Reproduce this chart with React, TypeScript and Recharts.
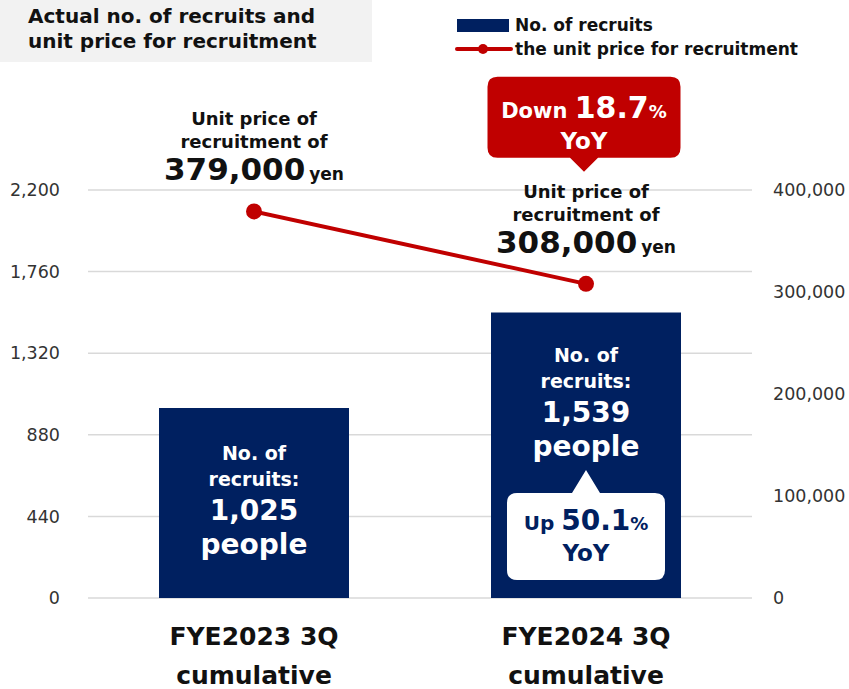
import React from "react";
import {
  ComposedChart,
  Bar,
  Line,
  XAxis,
  YAxis,
  CartesianGrid,
  LabelList,
} from "recharts";

const categories = ["FYE2023 3Q", "FYE2024 3Q"];
const categorySub = ["cumulative", "cumulative"];
const recruits = [1025, 1539];
const unitPrice = [379000, 308000];
const unitPriceText = ["379,000", "308,000"];
const recruitsText = ["1,025", "1,539"];
const recruitsChange = [null, "50.1"];
const priceChange = [null, "18.7"];
const leftTicks = [0, 440, 880, 1320, 1760, 2200];
const rightTicks = [0, 100000, 200000, 300000, 400000];

const NAVY = "#002060";
const RED = "#C00000";
const FONT = "'DejaVu Sans', Verdana, sans-serif";

const data = categories.map((c, i) => ({
  name: c,
  recruits: recruits[i],
  unitPrice: unitPrice[i],
}));

const fmt = (v: number) => v.toLocaleString("en-US");

// eslint-disable-next-line @typescript-eslint/no-explicit-any
const CategoryTick = ({ x, y, payload, index }: any) => (
  <text x={x} y={y} textAnchor="middle" fill="#111" fontWeight="bold" fontSize={25} fontFamily={FONT}>
    <tspan x={x} dy={39}>{payload.value}</tspan>
    <tspan x={x} dy={39}>{categorySub[index]}</tspan>
  </text>
);

// bubble shape: rounded box with a small triangle (up or down)
function bubblePath(cx: number, top: number, bottom: number, w: number, tip: number, r: number, up: boolean) {
  const l = cx - w / 2;
  const rt = cx + w / 2;
  const tw = 14;
  if (up) {
    return `M${l + r},${top} L${cx - tw},${top} L${cx},${tip} L${cx + tw},${top} L${rt - r},${top} Q${rt},${top} ${rt},${top + r} L${rt},${bottom - r} Q${rt},${bottom} ${rt - r},${bottom} L${l + r},${bottom} Q${l},${bottom} ${l},${bottom - r} L${l},${top + r} Q${l},${top} ${l + r},${top} Z`;
  }
  return `M${l + r},${top} L${rt - r},${top} Q${rt},${top} ${rt},${top + r} L${rt},${bottom - r} Q${rt},${bottom} ${rt - r},${bottom} L${cx + tw},${bottom} L${cx},${tip} L${cx - tw},${bottom} L${l + r},${bottom} Q${l},${bottom} ${l},${bottom - r} L${l},${top + r} Q${l},${top} ${l + r},${top} Z`;
}

// eslint-disable-next-line @typescript-eslint/no-explicit-any
const BarLabel = (props: any) => {
  const { x, y, width, height, index } = props;
  const cx = x + width / 2;
  const bottom = y + height;
  const change = recruitsChange[index];
  const top = y + (change ? -3 : 0);
  return (
    <g fontFamily={FONT} fontWeight="bold" textAnchor="middle">
      <text x={cx} y={top + 52} fill="#fff" fontSize={19}>No. of</text>
      <text x={cx} y={top + 78} fill="#fff" fontSize={19}>recruits:</text>
      <text x={cx} y={top + 112} fill="#fff" fontSize={28}>{recruitsText[index]}</text>
      <text x={cx} y={top + 146} fill="#fff" fontSize={28}>people</text>
      {change && (
        <g>
          <path d={bubblePath(cx, bottom - 105, bottom - 18, 158, bottom - 128, 10, true)} fill="#fff" />
          <text x={cx} y={bottom - 68} fill={NAVY}>
            <tspan fontSize={20}>Up </tspan>
            <tspan fontSize={28}>{change}</tspan>
            <tspan fontSize={18}>%</tspan>
          </text>
          <text x={cx} y={bottom - 37} fill={NAVY} fontSize={23}>YoY</text>
        </g>
      )}
    </g>
  );
};

// eslint-disable-next-line @typescript-eslint/no-explicit-any
const LineLabel = (props: any) => {
  const { x, y, index } = props;
  const change = priceChange[index];
  return (
    <g fontFamily={FONT} fontWeight="bold" textAnchor="middle">
      <text x={x} y={y - 86} fill="#111" fontSize={18}>Unit price of</text>
      <text x={x} y={y - 63} fill="#111" fontSize={18}>recruitment of</text>
      <text x={x} y={y - 31} fill="#111">
        <tspan fontSize={31}>{unitPriceText[index]}</tspan>
        <tspan fontSize={17} dx={4}>yen</tspan>
      </text>
      {change && (
        <g>
          <path d={bubblePath(x - 2, y - 207, y - 126, 193, y - 112, 10, false)} fill={RED} />
          <text x={x - 2} y={y - 166} fill="#fff">
            <tspan fontSize={21}>Down </tspan>
            <tspan fontSize={30}>{change}</tspan>
            <tspan fontSize={18}>%</tspan>
          </text>
          <text x={x - 2} y={y - 135} fill="#fff" fontSize={23}>YoY</text>
        </g>
      )}
    </g>
  );
};

export default function App() {
  return (
    <div style={{ position: "absolute", left: 0, top: 0, width: 849, height: 689, background: "#fff", fontFamily: FONT }}>
      <div
        style={{
          position: "absolute",
          left: 0,
          top: 0,
          width: 372,
          height: 62,
          background: "#F2F2F2",
          boxSizing: "border-box",
          padding: "4px 0 0 28px",
          fontWeight: "bold",
          fontSize: 20,
          lineHeight: "25px",
          color: "#111",
        }}
      >
        Actual no. of recruits and
        <br />
        unit price for recruitment
      </div>
      <div style={{ position: "absolute", left: 455, top: 13, fontWeight: "bold", fontSize: 17, color: "#111" }}>
        <div style={{ display: "flex", alignItems: "center", height: 24 }}>
          <span style={{ display: "inline-block", width: 52, height: 13, background: NAVY, marginRight: 6, marginLeft: 2 }} />
          No. of recruits
        </div>
        <div style={{ display: "flex", alignItems: "center", height: 24 }}>
          <svg width={58} height={14} style={{ marginRight: 2 }}>
            <line x1={2} y1={7} x2={56} y2={7} stroke={RED} strokeWidth={4} strokeLinecap="round" />
            <circle cx={28} cy={7} r={5} fill={RED} />
          </svg>
          the unit price for recruitment
        </div>
      </div>
      <ComposedChart
        width={849}
        height={689}
        data={data}
        margin={{ top: 190, right: 0, bottom: 0, left: 0 }}
        style={{ position: "absolute", left: 0, top: 0 }}
      >
        <CartesianGrid yAxisId="left" vertical={false} stroke="#D9D9D9" strokeWidth={1.5} />
        <XAxis
          dataKey="name"
          axisLine={false}
          tickLine={false}
          height={91}
          interval={0}
          tick={<CategoryTick />}
        />
        <YAxis
          yAxisId="left"
          orientation="left"
          width={88}
          domain={[0, 2200]}
          ticks={leftTicks}
          axisLine={false}
          tickLine={false}
          tickMargin={22}
          tickFormatter={fmt}
          tick={{ fill: "#333", fontSize: 17.5, fontFamily: FONT }}
        />
        <YAxis
          yAxisId="right"
          orientation="right"
          width={97}
          domain={[0, 400000]}
          ticks={rightTicks}
          axisLine={false}
          tickLine={false}
          tickMargin={15}
          tickFormatter={fmt}
          tick={{ fill: "#333", fontSize: 17.5, fontFamily: FONT, textAnchor: "start" }}
        />
        <Bar yAxisId="left" dataKey="recruits" fill={NAVY} barSize={190} isAnimationActive={false}>
          <LabelList dataKey="recruits" content={<BarLabel />} />
        </Bar>
        <Line
          yAxisId="right"
          dataKey="unitPrice"
          stroke={RED}
          strokeWidth={4}
          dot={{ r: 8, fill: RED, stroke: RED, strokeWidth: 0 }}
          activeDot={false}
          isAnimationActive={false}
        >
          <LabelList dataKey="unitPrice" content={<LineLabel />} />
        </Line>
      </ComposedChart>
    </div>
  );
}
